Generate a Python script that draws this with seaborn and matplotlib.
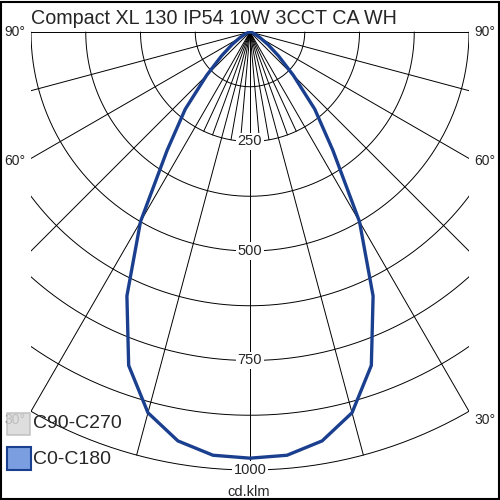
import numpy as np
import pandas as pd
import matplotlib
matplotlib.use("Agg")
import matplotlib.pyplot as plt
import seaborn as sns
from matplotlib.patches import Rectangle

# ---------------- data ----------------
title = "Compact XL 130 IP54 10W 3CCT CA WH"
unit_label = "cd.klm"
angles = [-90, -85, -80, -75, -70, -65, -60, -55, -50, -45, -40, -35, -30, -25, -20, -15, -10, -5,
          0, 5, 10, 15, 20, 25, 30, 35, 40, 45, 50, 55, 60, 65, 70, 75, 80, 85, 90]
c0_c180 = [0, 1, 2, 4, 8, 15, 28, 50, 85, 140, 230, 330, 500, 665, 810, 900, 948, 970,
           973, 970, 948, 900, 810, 665, 500, 330, 230, 140, 85, 50, 28, 15, 8, 4, 2, 1, 0]
ring_values = [125, 250, 375, 500, 625, 750, 875, 1000]
ring_labels = [250, 500, 750, 1000]
major_angles = [-90, -75, -60, -45, -30, -15, 0, 15, 30, 45, 60, 75, 90]
minor_angles = [-25, -20, -10, -5, 5, 10, 20, 25]
angle_labels = [90, 60, 30]
series_names = ["C90-C270", "C0-C180"]

# ---------------- style ----------------
sns.set_style("white")
plt.rcParams["font.family"] = ["Liberation Sans", "DejaVu Sans"]

W = 500
scale = 438 / 1000.0  # px per cd/klm
fig = plt.figure(figsize=(5, 5), dpi=100)
fig.patch.set_facecolor("white")

cx, cy = 250, 32  # pole position in pixels
ax_left = 31
ax_w = 438
ytop, ybot = 3, -1010
ax_h = (ytop - ybot) * scale
ax_top_px = cy - ytop * scale
ax = fig.add_axes([ax_left / W, 1 - (ax_top_px + ax_h) / W, ax_w / W, ax_h / W])
ax.set_xlim(-500, 500)
ax.set_ylim(ybot, ytop)
ax.set_axis_off()

grid_kw = dict(color="black", lw=0.7, zorder=1)
# circles
th = np.radians(np.linspace(-90, 90, 361))
for r in ring_values:
    ax.plot(r * np.sin(th), -r * np.cos(th), **grid_kw)
# radial lines
for a in major_angles:
    t = np.radians(a)
    ax.plot([0, 1000 * np.sin(t)], [0, -1000 * np.cos(t)], **grid_kw)
for a in minor_angles:
    t = np.radians(a)
    ax.plot([0, 250 * np.sin(t)], [0, -250 * np.cos(t)], **grid_kw)

# curve
t = np.radians(angles)
df = pd.DataFrame({"x": np.array(c0_c180) * np.sin(t),
                   "y": -np.array(c0_c180) * np.cos(t),
                   "series": series_names[1]})
sns.lineplot(data=df, x="x", y="y", sort=False, estimator=None, color="#1b3f8f", lw=2.4,
             ax=ax, legend=False, zorder=3)
ax.set_xlim(-500, 500)
ax.set_ylim(ybot, ytop)
ax.set_axis_off()

# ring labels
for v in ring_labels:
    ax.text(0, -v, str(v), ha="center", va="center", fontsize=10.5, zorder=5,
            bbox=dict(boxstyle="square,pad=0.12", fc="white", ec="none"))

# angle labels
for a in angle_labels:
    t = np.radians(a)
    y = -512 / np.tan(t) if a != 90 else 0
    ax.text(-512, y, f"{a}°", ha="right", va="center", fontsize=10, zorder=2, clip_on=False)
    ax.text(512, y, f"{a}°", ha="left", va="center", fontsize=10, zorder=2, clip_on=False)

# title & unit
fig.text(31 / W, 1 - 24 / W, title, ha="left", va="baseline", fontsize=14.2)
fig.text(249 / W, 1 - 496 / W, unit_label, ha="center", va="baseline", fontsize=10.5)

# legend
fig.patches.append(Rectangle((7 / W, 1 - 435 / W), 23 / W, 22 / W, transform=fig.transFigure,
                             fc="#d9d9d9", ec="#bdbdbd", lw=1.2, alpha=0.85, zorder=10))
fig.patches.append(Rectangle((7 / W, 1 - 470 / W), 24 / W, 23 / W, transform=fig.transFigure,
                             fc="#7b9ee0", ec="#1b3f8f", lw=1.5, zorder=10))
fig.text(33 / W, 1 - 424 / W, series_names[0], ha="left", va="center", fontsize=14)
fig.text(33 / W, 1 - 459 / W, series_names[1], ha="left", va="center", fontsize=14)

# outer frame
fig.patches.append(Rectangle((0.002, 0.002), 0.995, 0.995, transform=fig.transFigure,
                             fill=False, ec="black", lw=1.5, zorder=20))

fig.savefig("out.png", dpi=100, facecolor="white")
